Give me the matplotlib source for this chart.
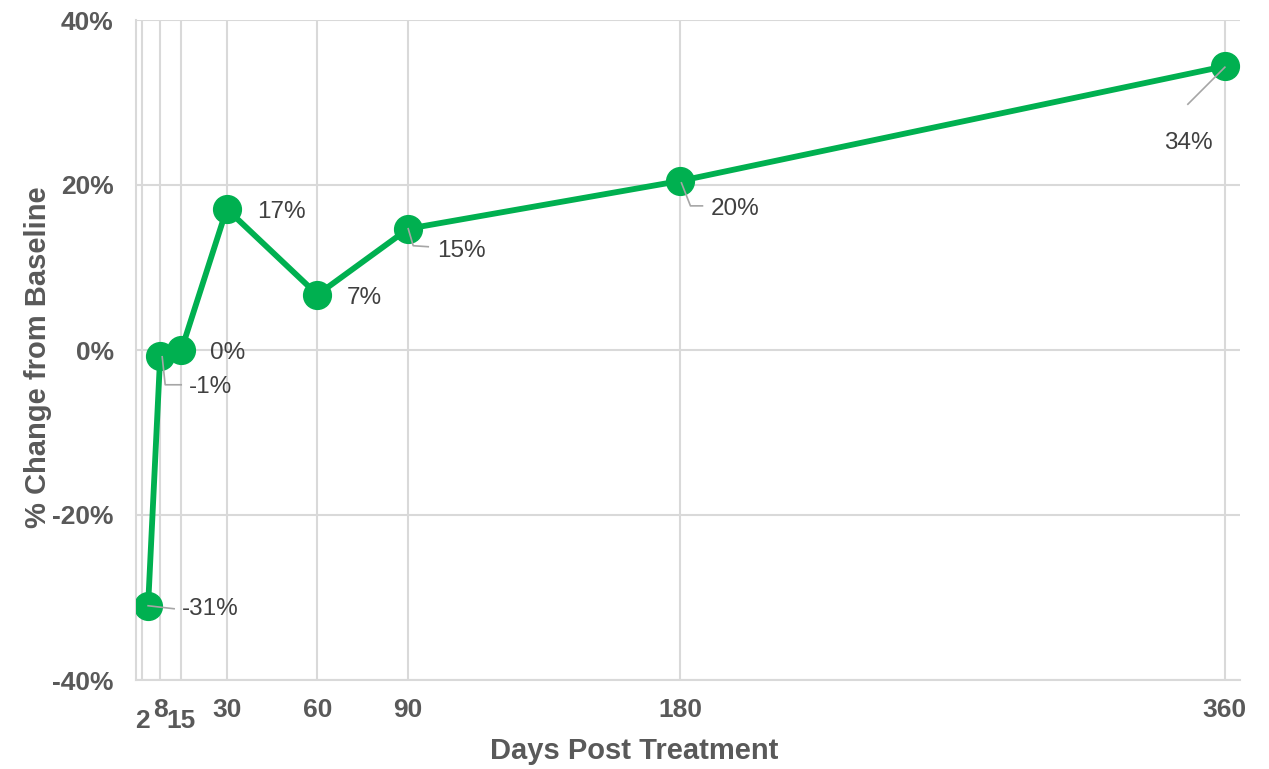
import matplotlib
matplotlib.use("Agg")
import matplotlib.pyplot as plt
from matplotlib.lines import Line2D
from matplotlib.transforms import ScaledTranslation, IdentityTransform

plt.rcParams["font.family"] = ["Liberation Sans", "DejaVu Sans"]

# Visit schedule (tick positions) and where each measurement sits on the day axis
tick_days = [2, 8, 15, 30, 60, 90, 180, 360]
tick_labels = ["2", "8", "15", "30", "60", "90", "180", "360"]
visit_day = [4, 8, 15, 30, 60, 90, 180, 360]
pct_change = [-31.0, -0.7, 0.0, 17.1, 6.7, 14.7, 20.5, 34.4]
y_ticks = [-40, -20, 0, 20, 40]

GREEN = "#00B050"
GRID = "#D9D9D9"
TICK_TXT = "#595959"
LABEL_TXT = "#404040"
LEADER = "#A6A6A6"

fig = plt.figure(figsize=(12.69, 7.69), dpi=100)
ax = fig.add_axes([136 / 1269, 1 - 680 / 769, (1240 - 136) / 1269, 660 / 769])

ax.set_xlim(0, 365)
ax.set_ylim(-40, 40)

ax.set_xticks(tick_days)
ax.set_xticklabels(tick_labels)
ax.set_yticks(y_ticks)
ax.set_yticklabels([f"{v}%" for v in y_ticks])
ax.grid(True, color=GRID, linewidth=1.5)
ax.set_axisbelow(True)
ax.tick_params(length=0, labelsize=19, labelcolor=TICK_TXT)
ax.tick_params(axis="x", pad=13)
ax.tick_params(axis="y", pad=16)
for lab in ax.get_xticklabels() + ax.get_yticklabels():
    lab.set_fontweight("bold")

# Stagger crowded day labels
for lab in ax.get_xticklabels():
    if lab.get_text() in ("2", "15"):
        lab.set_transform(lab.get_transform() + ScaledTranslation(0, -0.11, fig.dpi_scale_trans))

for side in ("top", "right"):
    ax.spines[side].set_visible(False)
for side in ("left", "bottom"):
    ax.spines[side].set_color(GRID)
    ax.spines[side].set_linewidth(1.5)

ax.plot(visit_day, pct_change, color=GREEN, linewidth=4.2, marker="o",
        markersize=20, markerfacecolor=GREEN, markeredgecolor=GREEN,
        solid_capstyle="round", zorder=3)

# Data labels: (dx, dy, ha) offsets in pixels from each point, plus leader paths
label_pos = [(34, -3, "left"), (29, -31, "left"), (29, -3, "left"), (30, -3, "left"),
             (29, -3, "left"), (29, -22, "left"), (30, -28, "left"), (-37, -77, "center")]
leaders = [
    [(0, 0), (26, -3)],
    [(2, -1), (5, -29), (21, -29)],
    None,
    None,
    None,
    [(0, 0), (5, -17), (20, -18)],
    [(1, -2), (10, -25), (22, -25)],
    [(0, -1), (-37, -38)],
]

fig.canvas.draw()
for x, y, (dx, dy, ha), path in zip(visit_day, pct_change, label_pos, leaders):
    px, py = ax.transData.transform((x, y))
    ax.text(px + dx, py + dy, f"{round(y):d}%", transform=IdentityTransform(),
            ha=ha, va="center", fontsize=17.5, color=LABEL_TXT, zorder=5)
    if path:
        xs = [px + p[0] for p in path]
        ys = [py + p[1] for p in path]
        fig.add_artist(Line2D(xs, ys, transform=IdentityTransform(), color=LEADER,
                              linewidth=1.2, zorder=6))

fig.text(0.5, 1 - 751 / 769, "Days Post Treatment", ha="center", va="center",
         fontsize=21, fontweight="bold", color=TICK_TXT)
fig.text(38 / 1269, 1 - 357 / 769, "% Change from Baseline", ha="center", va="center",
         rotation=90, fontsize=21, fontweight="bold", color=TICK_TXT)

fig.savefig("out.png", dpi=100)
